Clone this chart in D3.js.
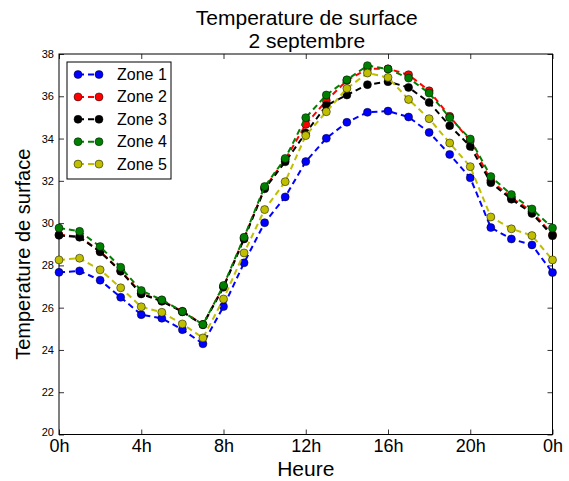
<!DOCTYPE html>
<html>
<head>
<meta charset="utf-8">
<script src="https://cdn.jsdelivr.net/npm/d3@7"></script>
<style>
	body { margin: 0; background: #fff; }
	text { font-family: "Liberation Sans", Arial, sans-serif; fill: #000; }
</style>
</head>
<body>
<div id="chart"></div>
<script>
'use strict';

var hours = d3.range(0, 25);

var zone1 = [27.67, 27.74, 27.3, 26.49, 25.67, 25.5, 24.96, 24.29, 26.05, 28.12,
	30.02, 31.24, 32.91, 34.01, 34.77, 35.24, 35.3, 35.02, 34.29, 33.25,
	32.14, 29.79, 29.25, 28.97, 27.66];
var zone2 = [29.45, 29.36, 28.66, 27.75, 26.68, 26.33, 25.83, 25.21, 27.0, 29.3,
	31.67, 33.0, 34.67, 35.79, 36.75, 37.3, 37.3, 37.02, 36.26, 35.05,
	33.88, 32.02, 31.2, 30.55, 29.45];
var zone3 = [29.42, 29.33, 28.64, 27.72, 26.65, 26.3, 25.8, 25.19, 26.97, 29.25,
	31.62, 32.9, 34.26, 35.56, 36.06, 36.55, 36.69, 36.42, 35.71, 34.61,
	33.63, 31.91, 31.13, 30.46, 29.4];
var zone4 = [29.77, 29.61, 28.89, 27.91, 26.81, 26.37, 25.82, 25.2, 27.05, 29.33,
	31.73, 33.06, 34.99, 36.06, 36.78, 37.45, 37.29, 36.86, 36.15, 34.99,
	33.98, 32.2, 31.35, 30.67, 29.77];
var zone5 = [28.26, 28.34, 27.79, 26.94, 26.04, 25.78, 25.23, 24.57, 26.41, 28.59,
	30.64, 31.96, 34.14, 35.27, 36.37, 37.1, 36.89, 35.85, 34.94, 33.79,
	32.67, 30.29, 29.73, 29.41, 28.26];

var zoneNames = ['Zone 1', 'Zone 2', 'Zone 3', 'Zone 4', 'Zone 5'];
var zoneColors = ['#0000ff', '#ff0000', '#000000', '#008000', '#bfbf00'];
var xTicks = [0, 4, 8, 12, 16, 20, 24];
var yTicks = [20, 22, 24, 26, 28, 30, 32, 34, 36, 38];

var series = [zone1, zone2, zone3, zone4, zone5].map(function (vals, i) {
	return {
		name: zoneNames[i],
		color: zoneColors[i],
		points: vals.map(function (v, j) { return { x: hours[j], y: v }; })
	};
});

var width = 569, height = 481;
var margin = { top: 54, right: 16.5, bottom: 46.5, left: 59 };

var svg = d3.select('#chart').append('svg')
	.attr('width', width)
	.attr('height', height);

var x = d3.scaleLinear().domain([0, 24])
	.range([margin.left, width - margin.right]);
var y = d3.scaleLinear().domain([20, 38])
	.range([height - margin.bottom, margin.top]);

// axes, ticks pointing inward on all four sides
var xAxis = d3.axisBottom(x).tickValues(xTicks)
	.tickSize(-5).tickPadding(5)
	.tickFormat(function (d) { return (d % 24) + 'h'; });
var gx = svg.append('g')
	.attr('transform', 'translate(0,' + y.range()[0] + ')')
	.call(xAxis);
gx.selectAll('text').style('font-size', '18px');

svg.append('g')
	.attr('transform', 'translate(0,' + y.range()[1] + ')')
	.call(d3.axisTop(x).tickValues(xTicks).tickSize(-5).tickFormat(''));

var yAxis = d3.axisLeft(y).tickValues(yTicks)
	.tickSize(-5).tickPadding(5);
var gy = svg.append('g')
	.attr('transform', 'translate(' + x.range()[0] + ',0)')
	.call(yAxis);
gy.selectAll('text').style('font-size', '11px');
gy.selectAll('.tick text').attr('dy', function (d) { return d === 20 ? '0.1em' : '0.32em'; });

svg.append('g')
	.attr('transform', 'translate(' + x.range()[1] + ',0)')
	.call(d3.axisRight(y).tickValues(yTicks).tickSize(-5).tickFormat(''));

svg.selectAll('.domain').remove();
svg.selectAll('.tick line').attr('stroke', '#000').attr('stroke-width', 0.8);

// frame
svg.append('rect')
	.attr('x', x.range()[0])
	.attr('y', y.range()[1])
	.attr('width', x.range()[1] - x.range()[0])
	.attr('height', y.range()[0] - y.range()[1])
	.attr('fill', 'none')
	.attr('stroke', '#000')
	.attr('stroke-width', 1);

// series
var line = d3.line()
	.x(function (d) { return x(d.x); })
	.y(function (d) { return y(d.y); });

series.forEach(function (s) {
	var g = svg.append('g');
	g.append('path')
		.datum(s.points)
		.attr('d', line)
		.attr('fill', 'none')
		.attr('stroke', s.color)
		.attr('stroke-width', 2)
		.attr('stroke-dasharray', '6,4');
	g.selectAll('circle')
		.data(s.points)
		.enter().append('circle')
		.attr('cx', function (d) { return x(d.x); })
		.attr('cy', function (d) { return y(d.y); })
		.attr('r', 4)
		.attr('fill', s.color)
		.attr('stroke', '#000')
		.attr('stroke-width', 0.5);
});

// legend
var legend = svg.append('g').attr('transform', 'translate(67,62)');
legend.append('rect')
	.attr('width', 104).attr('height', 117)
	.attr('fill', '#fff').attr('stroke', '#000').attr('stroke-width', 1);

series.forEach(function (s, i) {
	var row = legend.append('g').attr('transform', 'translate(0,' + (12.5 + i * 22.4) + ')');
	row.append('line')
		.attr('x1', 11).attr('x2', 32).attr('y1', 0).attr('y2', 0)
		.attr('stroke', s.color).attr('stroke-width', 2)
		.attr('stroke-dasharray', '6,4');
	[11, 32].forEach(function (cx) {
		row.append('circle')
			.attr('cx', cx).attr('cy', 0).attr('r', 4)
			.attr('fill', s.color).attr('stroke', '#000').attr('stroke-width', 0.5);
	});
	row.append('text')
		.attr('x', 50).attr('y', 5.5)
		.style('font-size', '16px')
		.text(s.name);
});

// titles
var cx = (x.range()[0] + x.range()[1]) / 2;
svg.append('text')
	.attr('x', cx + 1).attr('y', 25)
	.attr('text-anchor', 'middle')
	.style('font-size', '21px')
	.text('Temperature de surface');
svg.append('text')
	.attr('x', cx + 1).attr('y', 48)
	.attr('text-anchor', 'middle')
	.style('font-size', '21px')
	.text('2 septembre');

svg.append('text')
	.attr('x', cx).attr('y', 476)
	.attr('text-anchor', 'middle')
	.style('font-size', '21px')
	.text('Heure');

svg.append('text')
	.attr('transform', 'translate(30,' + ((y.range()[0] + y.range()[1]) / 2 + 10) + ') rotate(-90)')
	.attr('text-anchor', 'middle')
	.style('font-size', '20px')
	.text('Temperature de surface');
</script>
</body>
</html>
